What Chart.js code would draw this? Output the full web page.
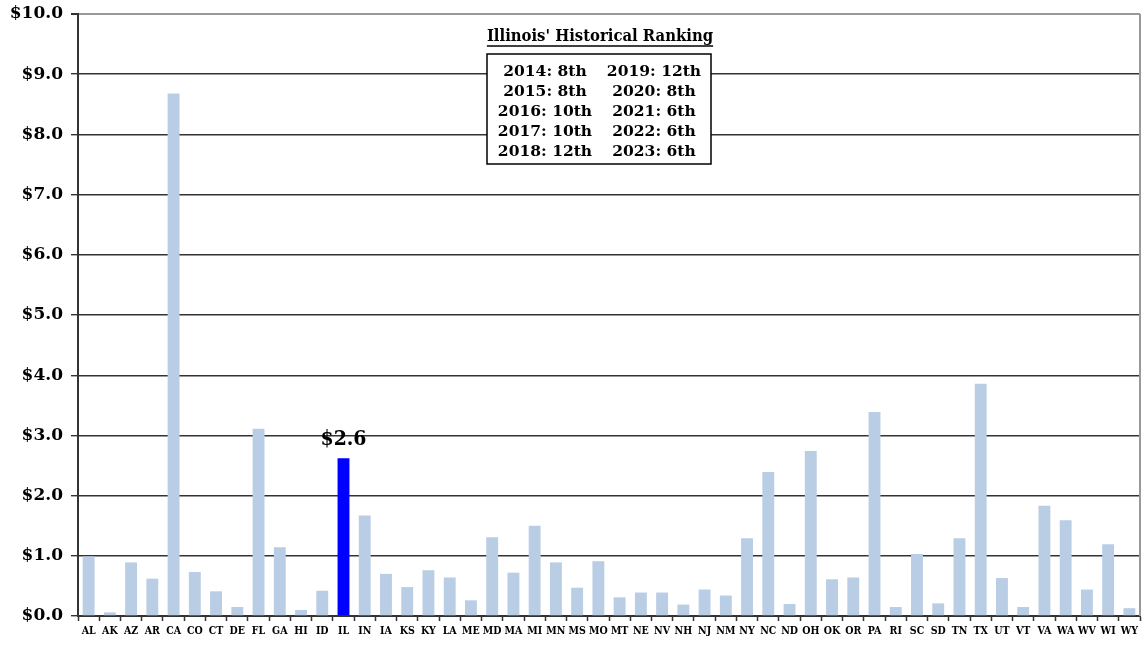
<!DOCTYPE html>
<html>
<head>
<meta charset="utf-8">
<script src="https://cdn.jsdelivr.net/npm/chart.js@4.4.1/dist/chart.umd.min.js"></script>
<style>
  html, body { margin: 0; padding: 0; background: #fff; }
  #wrap { width: 1144px; height: 650px; }
</style>
</head>
<body>
<div id="wrap"><canvas id="chart" width="1144" height="650"></canvas></div>
<script>
const states = ['AL', 'AK', 'AZ', 'AR', 'CA', 'CO', 'CT', 'DE', 'FL', 'GA', 'HI', 'ID', 'IL', 'IN', 'IA', 'KS', 'KY',
  'LA', 'ME', 'MD', 'MA', 'MI', 'MN', 'MS', 'MO', 'MT', 'NE', 'NV', 'NH', 'NJ', 'NM', 'NY', 'NC', 'ND', 'OH', 'OK',
  'OR', 'PA', 'RI', 'SC', 'SD', 'TN', 'TX', 'UT', 'VT', 'VA', 'WA', 'WV', 'WI', 'WY'];
const values = [0.99, 0.06, 0.89, 0.62, 8.68, 0.73, 0.41, 0.15, 3.11, 1.14, 0.10, 0.42, 2.62, 1.67, 0.70, 0.48, 0.76,
  0.64, 0.26, 1.31, 0.72, 1.50, 0.89, 0.47, 0.91, 0.31, 0.39, 0.39, 0.19, 0.44, 0.34, 1.29, 2.39, 0.20, 2.74, 0.61,
  0.64, 3.39, 0.15, 1.03, 0.21, 1.29, 3.86, 0.63, 0.15, 1.83, 1.59, 0.44, 1.19, 0.13];
const highlight = 'IL';
const rankTitle = "Illinois' Historical Ranking";
const rankLeft = ['2014: 8th', '2015: 8th', '2016: 10th', '2017: 10th', '2018: 12th'];
const rankRight = ['2019: 12th', '2020: 8th', '2021: 6th', '2022: 6th', '2023: 6th'];

const barColor = '#b9cde5';
const hiColor = '#0000ff';
const serif = "'DejaVu Serif', 'Liberation Serif', serif";
const serifCond = "'DejaVu Serif Condensed', 'DejaVu Serif', serif";

const annotations = {
  id: 'annotations',
  afterDatasetsDraw(chart) {
    const { ctx, chartArea, scales: { x, y } } = chart;
    ctx.save();

    // gray frame on the right
    ctx.strokeStyle = '#999';
    ctx.lineWidth = 2;
    ctx.beginPath();
    ctx.moveTo(chartArea.right, chartArea.top);
    ctx.lineTo(chartArea.right, chartArea.bottom);
    ctx.stroke();

    // value over the highlighted bar
    const i = states.indexOf(highlight);
    ctx.fillStyle = '#000';
    ctx.font = 'bold 21px ' + serifCond;
    ctx.textAlign = 'center';
    ctx.textBaseline = 'alphabetic';
    ctx.fillText('$' + values[i].toFixed(1), x.getPixelForValue(i), y.getPixelForValue(values[i]) - 13);

    // ranking title
    ctx.font = 'bold 16.5px ' + serifCond;
    ctx.textBaseline = 'middle';
    ctx.fillText(rankTitle, 600, 37);
    const tw = ctx.measureText(rankTitle).width;
    ctx.lineWidth = 1.5;
    ctx.strokeStyle = '#000';
    ctx.beginPath();
    ctx.moveTo(600 - tw / 2, 46);
    ctx.lineTo(600 + tw / 2, 46);
    ctx.stroke();

    // ranking box
    ctx.fillStyle = '#fff';
    ctx.fillRect(487, 54, 224, 110);
    ctx.strokeRect(487, 54, 224, 110);
    ctx.fillStyle = '#000';
    ctx.font = 'bold 15.5px ' + serif;
    rankLeft.forEach((t, k) => ctx.fillText(t, 545, 72 + k * 20));
    rankRight.forEach((t, k) => ctx.fillText(t, 654, 72 + k * 20));

    ctx.restore();
  },
};

new Chart(document.getElementById('chart'), {
  type: 'bar',
  data: {
    labels: states,
    datasets: [{
      data: values,
      backgroundColor: states.map(s => (s === highlight ? hiColor : barColor)),
      barPercentage: 0.56,
      categoryPercentage: 1,
    }],
  },
  options: {
    responsive: false,
    animation: false,
    layout: { padding: { top: 14, right: 4, left: 0, bottom: 0 } },
    plugins: { legend: { display: false }, tooltip: { enabled: false } },
    scales: {
      x: {
        grid: { offset: true, drawOnChartArea: false, tickLength: 5, tickColor: '#333', tickWidth: 1.5 },
        border: { color: '#333', width: 2 },
        ticks: {
          autoSkip: false, maxRotation: 0, padding: 4, color: '#000',
          font: { family: serifCond, size: 10.5, weight: 'bold' },
        },
        afterFit(scale) { scale.height = 34; },
      },
      y: {
        min: 0,
        max: 10,
        grid: {
          color: c => (c.tick && c.tick.value === 10 ? '#999' : '#333'),
          lineWidth: c => (c.tick && c.tick.value === 10 ? 2 : 1.4),
          tickLength: 7,
          tickColor: '#333',
        },
        border: { color: '#333', width: 2 },
        ticks: {
          stepSize: 1, padding: 8, color: '#000',
          font: { family: serif, size: 17, weight: 'bold' },
          callback: v => '$' + v.toFixed(1),
        },
        afterFit(scale) {
          scale.width = 78;
          scale.paddingTop = 0;
          scale.paddingBottom = 0;
        },
      },
    },
  },
  plugins: [annotations],
});
</script>
</body>
</html>
